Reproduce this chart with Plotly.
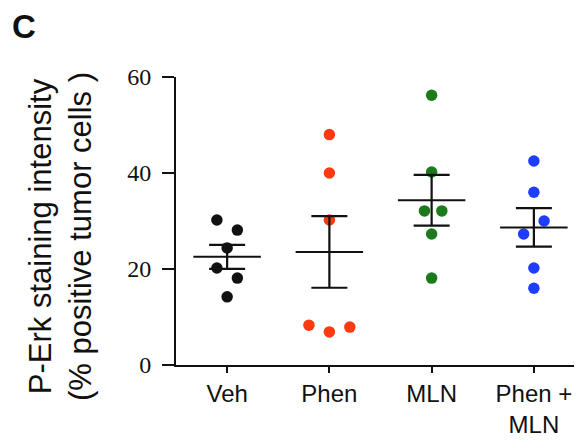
import numpy as np
import plotly.graph_objects as go

# ---- data ----
categories = ["Veh", "Phen", "MLN", "Phen +<br>MLN"]
veh = [30.2, 28.1, 24.4, 20.2, 18.1, 14.2]
phen = [48.0, 40.0, 30.2, 8.3, 6.9, 7.9]
mln = [56.2, 40.2, 32.1, 32.1, 27.3, 18.1]
phen_mln = [42.5, 36.0, 30.0, 27.3, 20.2, 16.0]
y_ticks = [0, 20, 40, 60]

# ---- style / layout ----
colors = ["#111111", "#ff3a12", "#1b7a1b", "#1f3dff"]
jitter = [
    [-0.1, 0.1, 0, -0.1, 0.1, 0],
    [0, 0, 0, -0.2, 0, 0.2],
    [0, 0, -0.07, 0.1, 0, 0],
    [0, 0, 0.1, -0.1, 0, 0],
]
groups = [veh, phen, mln, phen_mln]

fig = go.Figure()
for i, vals in enumerate(groups):
    v = np.array(vals, dtype=float)
    xs = [i + j for j in jitter[i]]
    fig.add_trace(go.Scatter(
        x=xs, y=v, mode="markers",
        marker=dict(color=colors[i], size=11.5, line=dict(width=0)),
        showlegend=False, hoverinfo="y"))
    mean = v.mean()
    sem = v.std(ddof=1) / np.sqrt(len(v))
    # mean line
    fig.add_trace(go.Scatter(
        x=[i - 0.33, i + 0.33], y=[mean, mean], mode="lines",
        line=dict(color="#111111", width=2), showlegend=False, hoverinfo="skip"))
    # SEM bar
    fig.add_trace(go.Scatter(
        x=[i], y=[mean], mode="markers",
        marker=dict(size=1, color="rgba(0,0,0,0)"),
        error_y=dict(type="data", array=[sem], visible=True,
                     color="#111111", thickness=2.2, width=18),
        showlegend=False, hoverinfo="skip"))

# the page offsets the figure slightly, so size/offset compensate
W, H = 577, 432
L, R, T = 168, 0, 69
pw, ph = W - L - R, 288
B = H - T - ph

fig.update_layout(
    width=W, height=H,
    margin=dict(l=L, r=R, t=T, b=B, autoexpand=False),
    paper_bgcolor="white", plot_bgcolor="white",
    font=dict(family="Liberation Sans, Arial, sans-serif", color="#111111"),
    xaxis=dict(
        range=[-0.5, 3.5], tickmode="array", tickvals=list(range(len(categories))),
        ticktext=categories, showline=True, linecolor="#111111", linewidth=2,
        ticks="outside", ticklen=6, tickwidth=2, tickcolor="#111111",
        tickfont=dict(size=24, family="Liberation Sans, Arial, sans-serif"),
        showgrid=False, zeroline=False, automargin=False),
    yaxis=dict(
        range=[0, 60], tickmode="array", tickvals=y_ticks,
        ticktext=[str(t) for t in y_ticks], showline=True, linecolor="#111111",
        linewidth=2, ticks="outside", ticklen=12, tickwidth=2, tickcolor="#111111",
        tickfont=dict(size=24, family="Liberation Serif, Times New Roman, serif"),
        ticklabelstandoff=6,
        showgrid=False, zeroline=False, automargin=False),
    annotations=[
        dict(text="P-Erk staining intensity<br>(% positive tumor cells )",
             xref="paper", yref="paper", x=(53 - L) / pw, y=(T + ph - 228) / ph,
             xanchor="center", yanchor="middle", textangle=-90, showarrow=False,
             font=dict(size=31, family="Liberation Sans, Arial, sans-serif")),
        dict(text="<b>C</b>", xref="paper", yref="paper",
             x=(2 - L) / pw, y=(T + ph - 18) / ph, xanchor="left", yanchor="middle",
             showarrow=False,
             font=dict(size=33, family="Liberation Sans, Arial, sans-serif")),
    ],
)

fig.write_html("out.html")
